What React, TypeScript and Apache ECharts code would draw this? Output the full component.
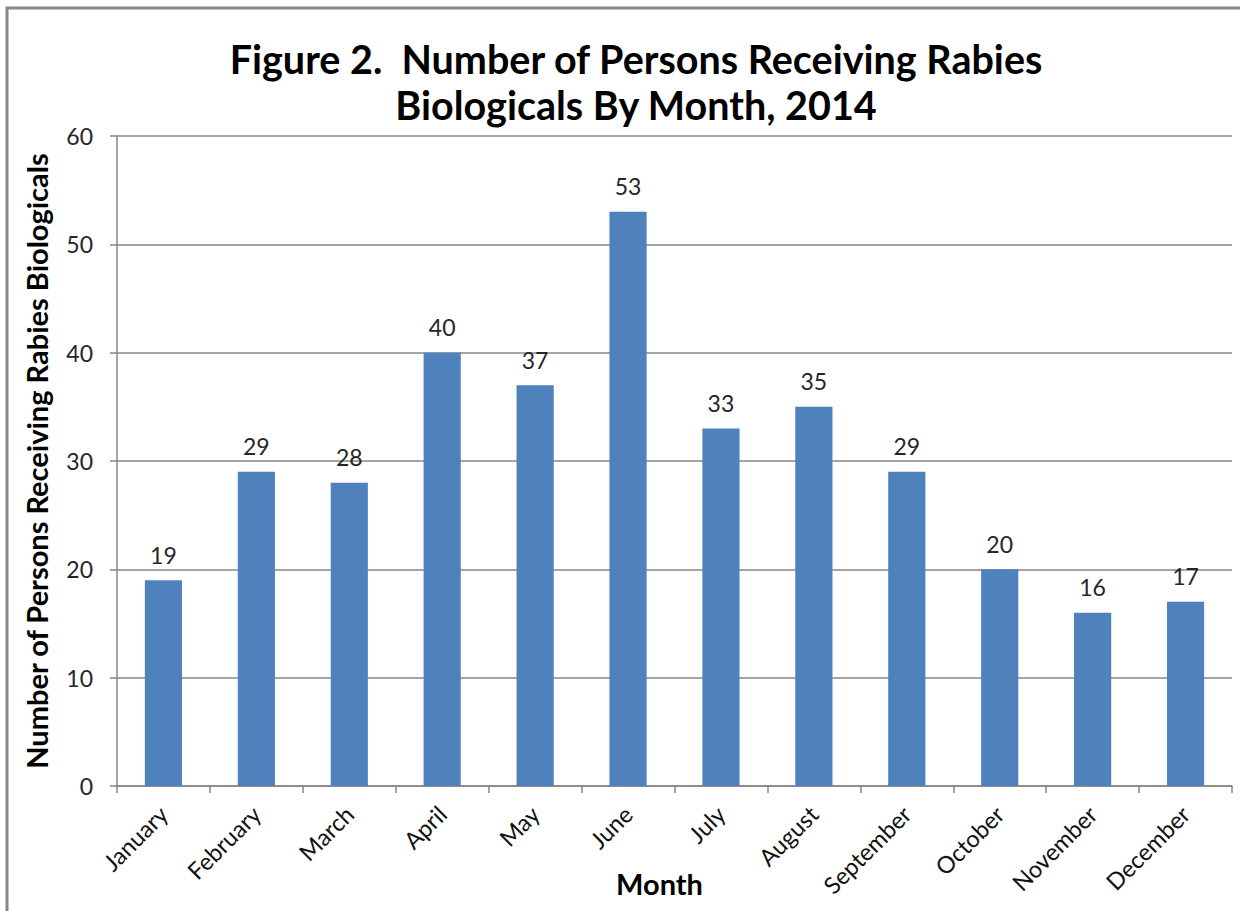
import React, { useEffect, useRef } from "react";
import * as echarts from "echarts";

const months = ["January", "February", "March", "April", "May", "June", "July", "August", "September", "October", "November", "December"];
const persons = [19, 29, 28, 40, 37, 53, 33, 35, 29, 20, 16, 17];
const yTicks = { min: 0, max: 60, interval: 10 };

const FONT = "Lato, 'Open Sans', sans-serif";

export default function App() {
  const ref = useRef<HTMLDivElement>(null);
  useEffect(() => {
    if (!ref.current) return;
    const chart = echarts.init(ref.current, undefined, { renderer: "svg" });
    chart.setOption({
      animation: false,
      backgroundColor: "#ffffff",
      title: {
        text: "Figure 2.  Number of Persons Receiving Rabies\nBiologicals By Month, 2014",
        left: 631,
        textAlign: "center",
        top: 30,
        textStyle: { fontFamily: FONT, fontSize: 39.5, fontWeight: "bold", color: "#000", lineHeight: 46 },
      },
      graphic: [
        {
          type: "rect",
          shape: { x: 7, y: 8, width: 1300, height: 1000 },
          style: { fill: "none", stroke: "#888888", lineWidth: 3 },
          silent: true,
        },
      ],
      grid: { left: 117, right: 8, top: 136, bottom: 125, containLabel: false, outerBoundsMode: "none" },
      xAxis: {
        type: "category",
        data: months,
        name: "Month",
        nameLocation: "middle",
        nameGap: 83,
        nameMoveOverlap: false,
        nameTextStyle: { fontFamily: FONT, fontSize: 29, fontWeight: "bold", color: "#000", padding: [0, 30, 0, 0] },
        axisLine: { lineStyle: { color: "#868686", width: 1.5 } },
        axisTick: { show: true, alignWithLabel: false, length: 7, lineStyle: { color: "#868686", width: 1.5 } },
        axisLabel: { rotate: 45, fontFamily: FONT, fontSize: 23.5, color: "#111", margin: 24, interval: 0 },
      },
      yAxis: {
        type: "value",
        min: yTicks.min,
        max: yTicks.max,
        interval: yTicks.interval,
        name: "Number of Persons Receiving Rabies Biologicals",
        nameLocation: "middle",
        nameGap: 66,
        nameMoveOverlap: false,
        nameTextStyle: { fontFamily: FONT, fontSize: 29, fontWeight: "bold", color: "#000" },
        axisLine: { show: true, lineStyle: { color: "#868686", width: 1.5 } },
        axisTick: { show: true, length: 7, lineStyle: { color: "#868686", width: 1.5 } },
        axisLabel: { fontFamily: FONT, fontSize: 23, color: "#262626", margin: 24 },
        splitLine: { lineStyle: { color: "#868686", width: 1.5 } },
      },
      series: [
        {
          type: "bar",
          data: persons,
          barWidth: "40%",
          itemStyle: { color: "#4F81BD" },
          label: { show: true, position: "top", distance: 14, fontFamily: FONT, fontSize: 23, color: "#262626" },
        },
      ],
    });
    return () => chart.dispose();
  }, []);
  return <div ref={ref} style={{ position: "absolute", left: 0, top: 0, width: 1240, height: 911 }} />;
}
